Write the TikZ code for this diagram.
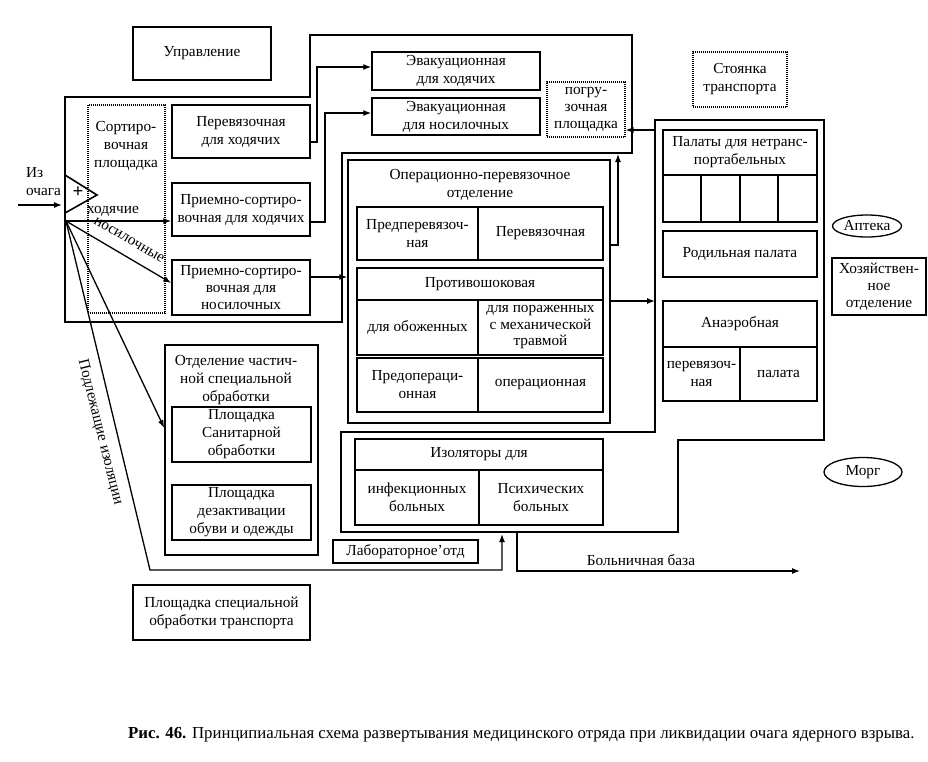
\documentclass[tikz,border=0pt]{standalone}
\usepackage{fontspec}
\setmainfont{Liberation Serif}
\usetikzlibrary{arrows.meta,shapes.geometric,calc}
\newcommand\dtxt{\fontsize{15.3}{18}\selectfont}
\newcommand\rbx[7][]{\node[box,#1,minimum width={#5-#3},minimum height={#6-#4}] (#2) at ({(#3+#5)/2},{(#4+#6)/2}) {#7};}
\begin{document}
\begin{tikzpicture}[x=1pt,y=-1pt,
  every node/.style={font=\dtxt},
  box/.style={draw,line width=1.5pt,inner sep=0pt,align=center},
  dbox/.style={line width=1.1pt,dash pattern=on 1pt off 1pt},
  frame/.style={line width=1.6pt},
  conn/.style={line width=1.3pt},
  arr/.style={conn,-{Latex[length=8pt,width=6pt]}},
  lbl/.style={inner sep=0pt,align=center}]
\useasboundingbox (0,0) rectangle (928,761);
\fill[white] (0,0) rectangle (928,761);

% frames
\draw[frame] (65,97) -- (310,97) -- (310,35) -- (632,35) -- (632,153) -- (342,153) -- (342,322) -- (65,322) -- cycle;
\draw[frame] (655,120) -- (824,120) -- (824,440) -- (678,440) -- (678,532) -- (341,532) -- (341,432) -- (655,432) -- cycle;
\coordinate (rf) at (655,120);

% left group
\rbx{upr}{133}{27}{271}{80}{Управление}
\rbx[dbox]{sort}{88}{105}{165}{313}{}
\node[lbl] (sortt) at (126,146) {Сортиро-\\вочная\\площадка};
\rbx{perevh}{172}{105}{310}{158}{Перевязочная\\для ходячих}
\rbx{prh}{172}{183}{310}{236}{Приемно-сортиро-\\вочная для ходячих}
\rbx[font=\fontsize{15.3}{17}\selectfont]{prn}{172}{260}{310}{315}{Приемно-сортиро-\\вочная для\\носилочных}

% triangle
\draw[frame] (65,175) -- (97,195) -- (65,213) -- cycle;
\node[lbl,font=\fontsize{19}{19}\selectfont\bfseries] (plus) at (78,192) {+};
\coordinate (triw) at (62,205);
\coordinate (inpt) at (18,205);
\node[lbl,align=left,anchor=west] (izt) at (26,182) {Из\\очага};
\draw[arr] (inpt) -- (triw);

% evacuation
\rbx{evh}{372}{52}{540}{90}{Эвакуационная\\для ходячих}
\rbx{evn}{372}{98}{540}{135}{Эвакуационная\\для носилочных}
\rbx[dbox,font=\fontsize{15.3}{17}\selectfont]{pogr}{547}{82}{625}{137}{погру-\\зочная\\площадка}

% operational
\rbx{op}{348}{160}{610}{423}{}
\node[lbl] (opt) at (480,185) {Операционно-перевязочное\\отделение};
\rbx{opa1}{357}{207}{478}{260}{Предперевязоч-\\ная}
\rbx{opa2}{478}{207}{603}{260}{Перевязочная}
\rbx{opb0}{357}{268}{603}{300}{Противошоковая}
\rbx{opb1}{357}{300}{478}{355}{для обоженных}
\rbx[font=\fontsize{15.3}{16.5}\selectfont]{opb2}{478}{300}{603}{355}{для пораженных\\с механической\\травмой}
\rbx{opc1}{357}{358}{478}{412}{Предопераци-\\онная}
\rbx{opc2}{478}{358}{603}{412}{операционная}

% right group
\rbx[dbox]{stoy}{693}{52}{787}{107}{Стоянка\\транспорта}
\rbx{pal0}{663}{130}{817}{175}{Палаты для нетранс-\\портабельных}
\rbx{pal1}{663}{175}{701}{222}{}
\rbx{pal2}{701}{175}{740}{222}{}
\rbx{pal3}{740}{175}{778}{222}{}
\rbx{pal4}{778}{175}{817}{222}{}
\rbx{rod}{663}{231}{817}{277}{Родильная палата}
\rbx{an0}{663}{301}{817}{347}{Анаэробная}
\rbx{an1}{663}{347}{740}{401}{перевязоч-\\ная}
\rbx{an2}{740}{347}{817}{401}{палата}
\node[draw,ellipse,line width=1.3pt,inner sep=0pt,minimum width=69,minimum height=22] (apt) at (867,226) {Аптека};
\rbx[font=\fontsize{15.3}{17}\selectfont]{hoz}{832}{258}{926}{315}{Хозяйствен-\\ное\\отделение}
\node[draw,ellipse,line width=1.3pt,inner sep=0pt,minimum width=78,minimum height=29] (morg) at (863,472) {Морг};

% isolators
\rbx{iz0}{355}{439}{603}{470}{Изоляторы для}
\rbx{iz1}{355}{470}{479}{525}{инфекционных\\больных}
\rbx{iz2}{479}{470}{603}{525}{Психических\\больных}
\rbx{lab}{333}{540}{478}{563}{Лабораторное'отд}

% special treatment
\rbx{otd}{165}{345}{318}{555}{}
\node[lbl] (otdt) at (236,380) {Отделение частич-\\ной специальной\\обработки};
\rbx{san}{172}{407}{311}{462}{Площадка\\Санитарной\\обработки}
\rbx{dez}{172}{485}{311}{540}{Площадка\\дезактивации\\обуви и одежды}
\rbx{trn}{133}{585}{310}{640}{Площадка специальной\\обработки транспорта}

% connectors
\coordinate (src) at (66,221);
\coordinate (isoin) at (502,534);
\coordinate (bs) at (517,532);
\coordinate (be) at (800,571);
\draw[arr] (src) -- (prh.west |- src);
\node[lbl] (lhod) at (113,211) {ходячие};
\draw[arr] (src) -- (prn.west |- 0,283);
\node[lbl,rotate=-30] (lnos) at (129,240) {носилочные};
\draw[arr] (src) -- (otd.west |- 0,428);
\draw[arr] (src) -- (150,570) -| (isoin);
\node[lbl,rotate=-76] (liso) at (100,432) {Подлежащие изоляции};
\draw[arr] (perevh.east |- 0,142) -- (317,142) -- (317,67) -- (evh.west |- 0,67);
\draw[arr] (prh.east |- 0,222) -- (325,222) -- (325,113) -- (evn.west |- 0,113);
\draw[arr] (prn.east |- 0,277) -- (op.west |- 0,277);
\draw[arr] (op.east |- 0,245) -- (618,245) -- (618,154);
\draw[arr] (op.east |- 0,301) -- (rf |- 0,301);
\draw[arr] (rf |- 0,130) -- (pogr.east |- 0,130);
\draw[arr] (bs) |- (be);
\node[lbl] (lbase) at (641,560) {Больничная база};

% caption
\node[lbl,anchor=west,font=\fontsize{16.8}{19}\selectfont] (cap) at (128,735) {\textbf{Рис. 46.} Принципиальная схема развертывания медицинского отряда при ликвидации очага ядерного взрыва.};
\end{tikzpicture}
\end{document}
